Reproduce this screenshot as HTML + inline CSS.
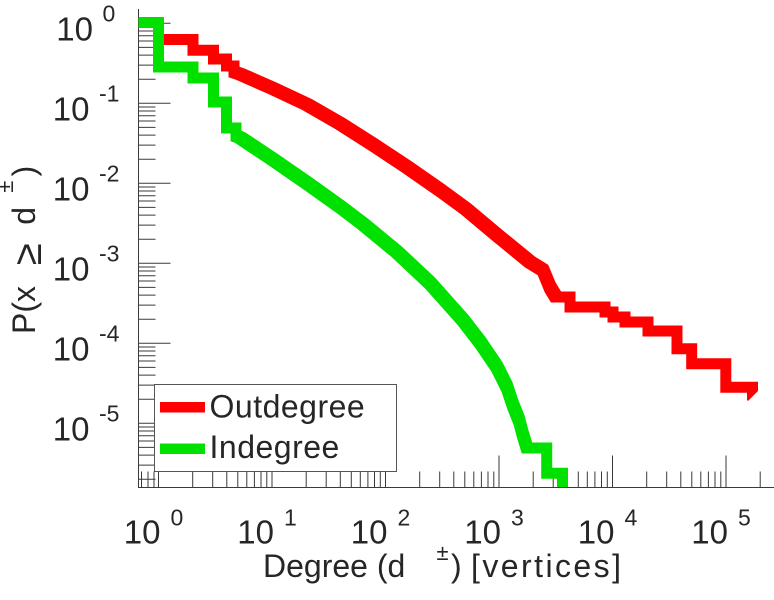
<!DOCTYPE html>
<html>
<head>
<meta charset="utf-8">
<style>
html,body{margin:0;padding:0;background:#fff;}
svg{display:block;}
text{font-family:"Liberation Sans",Arial,sans-serif;fill:#262626;}
</style>
</head>
<body>
<svg width="774" height="600" viewBox="0 0 774 600" xmlns="http://www.w3.org/2000/svg">
<rect x="0" y="0" width="774" height="600" fill="#fff"/>
<defs>
<clipPath id="clip"><rect x="138.5" y="0" width="636" height="487"/></clipPath>
<path id="rp" fill="none" stroke="#ff0000" stroke-width="2" d="M158.5,23.3 V39.5 H193 V50.3 H213.5 V59 H226.5 V66 H234 V72 L240,74 L273,88.5 L307,104.5 L340,123.5 L373,144.5 L407,167 L440,190 L466,209 L497,235 L530,262 L543,270 L550,287 L556,297 H570 V307 H605 V312 H613 V317 H625 V322 H648 V331 H677 V348.7 H691.7 V363.8 H725.8 V387.3 H752.5 V396"/>
<path id="gp" fill="none" stroke="#00e100" stroke-width="2" d="M130,22.5 H158.5 V67 H193 V78 H213.5 V102 H226.5 V128 H236 V136 L240,137.5 L273,159.5 L307,183 L340,206.5 L363,224 L397,252 L430,283 L463,320 L480,342 L497,367 L507,387 L513,405 L519,420 L523,435 L527,448 H546.7 V473.3 H562.5 V500"/>
</defs>

<!-- axes -->
<g stroke="#3a3a3a" stroke-width="1" fill="none">
<path d="M138.5,9 V487.5 H774"/>
<path d="M138.5,23.3 h32 M138.5,103.3 h32 M138.5,183.3 h32 M138.5,263.3 h32 M138.5,343.3 h32 M138.5,423.3 h32"/>
<path d="M138.5,79.22h17M138.5,65.13h17M138.5,55.14h17M138.5,47.38h17M138.5,41.05h17M138.5,35.69h17M138.5,31.05h17M138.5,26.96h17
M138.5,159.22h17M138.5,145.13h17M138.5,135.14h17M138.5,127.38h17M138.5,121.05h17M138.5,115.69h17M138.5,111.05h17M138.5,106.96h17
M138.5,239.22h17M138.5,225.13h17M138.5,215.14h17M138.5,207.38h17M138.5,201.05h17M138.5,195.69h17M138.5,191.05h17M138.5,186.96h17
M138.5,319.22h17M138.5,305.13h17M138.5,295.14h17M138.5,287.38h17M138.5,281.05h17M138.5,275.69h17M138.5,271.05h17M138.5,266.96h17
M138.5,399.22h17M138.5,385.13h17M138.5,375.14h17M138.5,367.38h17M138.5,361.05h17M138.5,355.69h17M138.5,351.05h17M138.5,346.96h17
M138.5,479.22h17M138.5,465.13h17M138.5,455.14h17M138.5,447.38h17M138.5,441.05h17M138.5,435.69h17M138.5,431.05h17M138.5,426.96h17"/>
<path d="M158.5,487.5 v-32 M272,487.5 v-32 M385.5,487.5 v-32 M499,487.5 v-32 M612.5,487.5 v-32 M726,487.5 v-32"/>
<path d="M141.5,487.5v-16M148,487.5v-16M154,487.5v-16
M192.7,487.5v-16M212.7,487.5v-16M226.8,487.5v-16M237.8,487.5v-16M246.8,487.5v-16M254.4,487.5v-16M261,487.5v-16M266.8,487.5v-16
M306.2,487.5v-16M326.2,487.5v-16M340.3,487.5v-16M351.3,487.5v-16M360.3,487.5v-16M367.9,487.5v-16M374.5,487.5v-16M380.3,487.5v-16
M419.7,487.5v-16M439.7,487.5v-16M453.8,487.5v-16M464.8,487.5v-16M473.8,487.5v-16M481.4,487.5v-16M488,487.5v-16M493.8,487.5v-16
M533.2,487.5v-16M553.2,487.5v-16M567.3,487.5v-16M578.3,487.5v-16M587.3,487.5v-16M594.9,487.5v-16M601.5,487.5v-16M607.3,487.5v-16
M646.7,487.5v-16M666.7,487.5v-16M680.8,487.5v-16M691.8,487.5v-16M700.8,487.5v-16M708.4,487.5v-16M715,487.5v-16M720.8,487.5v-16
M760.2,487.5v-16"/>
</g>

<!-- data -->
<g clip-path="url(#clip)">
<g>
<use href="#rp" transform="translate(-4.5,4.5)"/>
<use href="#rp" transform="translate(-3.5,3.5)"/>
<use href="#rp" transform="translate(-2.5,2.5)"/>
<use href="#rp" transform="translate(-1.5,1.5)"/>
<use href="#rp" transform="translate(-0.5,0.5)"/>
<use href="#rp" transform="translate(0.5,-0.5)"/>
<use href="#rp" transform="translate(1.5,-1.5)"/>
<use href="#rp" transform="translate(2.5,-2.5)"/>
<use href="#rp" transform="translate(3.5,-3.5)"/>
<use href="#rp" transform="translate(4.5,-4.5)"/>
</g>
<g>
<use href="#gp" transform="translate(-4.5,4.5)"/>
<use href="#gp" transform="translate(-3.5,3.5)"/>
<use href="#gp" transform="translate(-2.5,2.5)"/>
<use href="#gp" transform="translate(-1.5,1.5)"/>
<use href="#gp" transform="translate(-0.5,0.5)"/>
<use href="#gp" transform="translate(0.5,-0.5)"/>
<use href="#gp" transform="translate(1.5,-1.5)"/>
<use href="#gp" transform="translate(2.5,-2.5)"/>
<use href="#gp" transform="translate(3.5,-3.5)"/>
<use href="#gp" transform="translate(4.5,-4.5)"/>
</g>
</g>

<!-- legend -->
<rect x="154.5" y="384.5" width="242" height="87" fill="#fff" stroke="#555" stroke-width="1"/>
<rect x="160" y="402" width="45" height="10.5" fill="#ff0000"/>
<rect x="160" y="443.5" width="45" height="10.5" fill="#00e100"/>
<text x="209.5" y="417.5" font-size="32" letter-spacing="0.5">Outdegree</text>
<text x="209.5" y="458" font-size="32" letter-spacing="0.5">Indegree</text>

<!-- y tick labels -->
<g font-size="33">
<text x="93" y="40.3" text-anchor="end">10</text>
<text x="89.5" y="120.3" text-anchor="end">10</text>
<text x="89.5" y="200.3" text-anchor="end">10</text>
<text x="89.5" y="280.3" text-anchor="end">10</text>
<text x="89.5" y="360.3" text-anchor="end">10</text>
<text x="89.5" y="440.3" text-anchor="end">10</text>
</g>
<g font-size="23">
<text x="102.5" y="21.5">0</text>
<text x="99" y="101.5">-1</text>
<text x="99" y="181.5">-2</text>
<text x="99" y="261.5">-3</text>
<text x="99" y="341.5">-4</text>
<text x="99" y="421.5">-5</text>
</g>

<!-- x tick labels -->
<g font-size="33" text-anchor="end">
<text x="160.5" y="543.5">10</text>
<text x="274" y="543.5">10</text>
<text x="387.5" y="543.5">10</text>
<text x="501" y="543.5">10</text>
<text x="614.5" y="543.5">10</text>
<text x="728" y="543.5">10</text>
</g>
<g font-size="23">
<text x="170.5" y="525.5">0</text>
<text x="284" y="525.5">1</text>
<text x="397.5" y="525.5">2</text>
<text x="511" y="525.5">3</text>
<text x="624.5" y="525.5">4</text>
<text x="738" y="525.5">5</text>
</g>

<!-- x title -->
<text x="263" y="577" font-size="32">Degree (d</text>
<text x="442.5" y="560" font-size="22" text-anchor="middle">±</text>
<text x="451" y="577" font-size="32">)</text>
<text x="471" y="577" font-size="32" textLength="150" lengthAdjust="spacing">[vertices]</text>

<!-- y title -->
<g transform="translate(35,0) rotate(-90)">
<text x="-334" y="0" font-size="32">P(x</text>
<text x="-254.2" y="6" font-size="40" text-anchor="middle">≥</text>
<text x="-215.8" y="0" font-size="32" text-anchor="middle">d</text>
<text x="-186.7" y="-22" font-size="22" text-anchor="middle">±</text>
<text x="-171" y="0" font-size="32" text-anchor="middle">)</text>
</g>
</svg>
</body>
</html>
